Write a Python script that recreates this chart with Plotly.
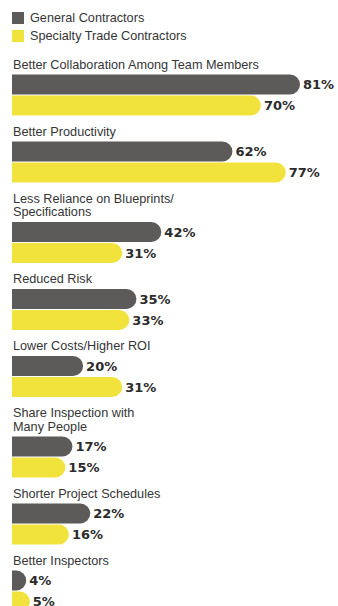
import plotly.graph_objects as go

categories = [
    "Better Collaboration Among Team Members",
    "Better Productivity",
    "Less Reliance on Blueprints/<br>Specifications",
    "Reduced Risk",
    "Lower Costs/Higher ROI",
    "Share Inspection with<br>Many People",
    "Shorter Project Schedules",
    "Better Inspectors",
]
general = [81, 62, 42, 35, 20, 17, 22, 4]
specialty = [70, 77, 31, 33, 31, 15, 16, 5]
series_names = ["General Contractors", "Specialty Trade Contractors"]

W, H = 338, 606
GRAY = "#5d5b5a"
YELLOW = "#f2e33c"
TEXT = "#353535"

# layout of groups in pixel units (y axis = pixels from top)
start = 48.5
label_gap = 16
line_h = 13.5
bar_off = 10
bar_th = 20
pitch = 21

y_gc, y_stc, label_lines = [], [], []
cursor = start
for cat in categories:
    lines = cat.split("<br>")
    centers = [cursor + label_gap + i * line_h for i in range(len(lines))]
    for ln, c in zip(lines, centers):
        label_lines.append((ln, c))
    top = centers[-1] + bar_off
    y_gc.append(top + bar_th / 2)
    y_stc.append(top + pitch + bar_th / 2)
    cursor = top + pitch + bar_th

left_px, right_ref_px = 12, 300
ppu = (right_ref_px - left_px) / max(general)
x_range = [-left_px / ppu, (W - left_px) / ppu]

fig = go.Figure()
colors = [GRAY, YELLOW]
for name, vals, ys, col in [(series_names[0], general, y_gc, GRAY),
                            (series_names[1], specialty, y_stc, YELLOW)]:
    fig.add_trace(go.Bar(
        name=name, x=vals, y=ys, orientation="h", width=bar_th,
        marker=dict(color=col, line=dict(width=0)),
        texttemplate="%{x}%", textposition="outside",
        textfont=dict(family="DejaVu Sans", size=13, color="#2b2b2b", weight="bold"),
        cliponaxis=False, hoverinfo="skip", showlegend=False,
    ))

annotations = []
for ln, c in label_lines:
    annotations.append(dict(
        x=0, y=c, xref="x", yref="y", text=ln, showarrow=False,
        xanchor="left", yanchor="middle", xshift=-1,
        font=dict(family="Liberation Sans", size=12.7, color=TEXT),
    ))

# manual legend (keys as square swatches)
shapes = []
leg_x0, leg_size, leg_y0, leg_step = 12, 12, 12, 18
for i, (name, col) in enumerate(zip(series_names, colors)):
    y0 = leg_y0 + i * leg_step
    shapes.append(dict(type="rect", xref="paper", yref="paper",
                       x0=leg_x0 / W, x1=(leg_x0 + leg_size) / W,
                       y0=1 - (y0 + leg_size) / H, y1=1 - y0 / H,
                       fillcolor=col, line=dict(width=0)))
    annotations.append(dict(
        x=(leg_x0 + leg_size + 4) / W, y=1 - (y0 + leg_size / 2) / H,
        xref="paper", yref="paper", text=name, showarrow=False,
        xanchor="left", yanchor="middle",
        font=dict(family="Liberation Sans", size=12.7, color=TEXT),
    ))

fig.update_layout(
    width=W, height=H,
    margin=dict(l=0, r=0, t=0, b=0),
    paper_bgcolor="white", plot_bgcolor="white",
    barmode="overlay", barcornerradius="50%",
    showlegend=False,
    xaxis=dict(range=x_range, visible=False, fixedrange=True),
    yaxis=dict(range=[H, 0], visible=False, fixedrange=True),
    annotations=annotations,
    shapes=shapes,
)

fig.write_html("out.html")
